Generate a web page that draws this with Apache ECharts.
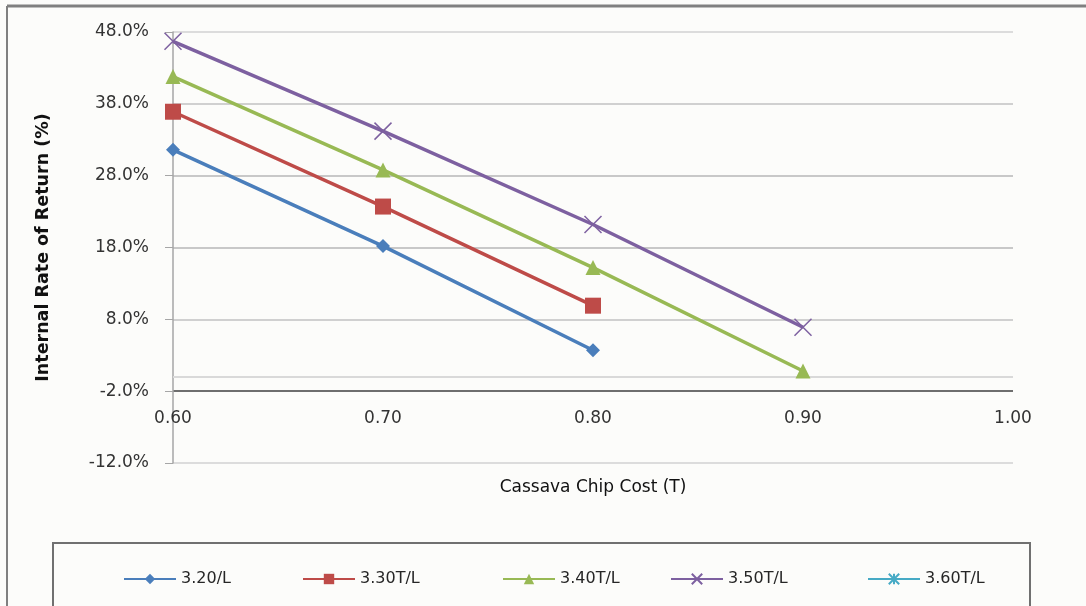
<!DOCTYPE html>
<html>
<head>
<meta charset="utf-8">
<script src="https://cdn.jsdelivr.net/npm/echarts@6/dist/echarts.min.js"></script>
<style>
html,body{margin:0;padding:0;background:#fcfcfa;}
#chart{width:1086px;height:606px;}
</style>
</head>
<body>
<div id="chart"></div>
<script>
// ---- data ----
var costs = [0.60, 0.70, 0.80, 0.90];
var seriesNames = ['3.20/L', '3.30T/L', '3.40T/L', '3.50T/L', '3.60T/L'];
var irr320 = [31.6, 18.2, 3.7];
var irr330 = [36.9, 23.7, 9.9];
var irr340 = [41.8, 28.8, 15.2, 0.8];
var irr350 = [46.7, 34.2, 21.2, 6.9];
var irr360 = [];
var xTicks = [0.60, 0.70, 0.80, 0.90, 1.00];
var yTicks = [-12, -2, 8, 18, 28, 38, 48];

var colors = ['#4a7ebb', '#be4b48', '#98b954', '#7d60a0', '#46aac5'];
var symbols = ['diamond', 'rect', 'triangle', 'path://M0,0L10,10M10,0L0,10', 'path://M0,0L10,10M10,0L0,10M5,0L5,10'];
var symbolSizes = [14, 16, 15, 17, 14];
var allData = [irr320, irr330, irr340, irr350, irr360];

function pairs(vals) {
  return vals.map(function (v, i) { return [costs[i], v]; });
}

var FONT = '"DejaVu Sans", "Liberation Sans", sans-serif';
var chart = echarts.init(document.getElementById('chart'), null, {renderer: 'canvas'});

var series = seriesNames.map(function (name, i) {
  var isLineSym = i >= 3;
  return {
    name: name,
    type: 'line',
    data: pairs(allData[i]),
    symbol: symbols[i],
    symbolSize: symbolSizes[i],
    showAllSymbol: true,
    lineStyle: {color: colors[i], width: 3.5},
    itemStyle: isLineSym ? {color: colors[i], borderColor: colors[i], borderWidth: 1.5} : {color: colors[i]},
    z: 3 + i
  };
});
// light gridline at 0%
series[0].markLine = {
  silent: true, symbol: 'none', label: {show: false},
  lineStyle: {color: '#d9d9d9', width: 2, type: 'solid'},
  data: [{yAxis: 0}]
};

var legendLefts = [118, 297, 497, 665, 862];
var legends = seriesNames.map(function (name, i) {
  return {
    data: [name], left: legendLefts[i], top: 566,
    itemWidth: 52, itemHeight: 13, itemGap: 5,
    textStyle: {fontFamily: FONT, fontSize: 16, color: '#262626'}
  };
});

chart.setOption({
  backgroundColor: '#fcfcfa',
  animation: false,
  color: colors,
  grid: {left: 173, right: 73, top: 32, bottom: 143, containLabel: false},
  xAxis: {
    type: 'value', min: 0.6, max: 1.0, interval: 0.1,
    offset: -72,
    axisLine: {show: false},
    axisTick: {show: false},
    splitLine: {show: false},
    axisLabel: {margin: 19, fontFamily: FONT, fontSize: 17, color: '#333',
      formatter: function (v) { return v.toFixed(2); }},
    name: 'Cassava Chip Cost (T)', nameLocation: 'middle', nameGap: 88,
    nameTextStyle: {fontFamily: FONT, fontSize: 17, color: '#111'}
  },
  yAxis: {
    type: 'value', min: -12, max: 48, interval: 10,
    axisLine: {show: true, lineStyle: {color: '#a6a6a6', width: 1.5}},
    axisTick: {show: true, length: 8, lineStyle: {color: '#a6a6a6'}},
    splitLine: {show: true, lineStyle: {color: ['#dcdcdc', '#6e6e6e', '#d0d0d0', '#c8c8c8', '#c8c8c8', '#d0d0d0', '#dcdcdc'], width: 2}},
    axisLabel: {margin: 24, fontFamily: FONT, fontSize: 17, color: '#333',
      formatter: function (v) { return v.toFixed(1) + '%'; }},
    name: 'Internal Rate of Return (%)', nameLocation: 'middle', nameGap: 121,
    nameTextStyle: {fontFamily: FONT, fontSize: 17.5, fontWeight: 'bold', color: '#111'}
  },
  legend: legends,
  graphic: [
    {type: 'line', shape: {x1: 7, y1: 6, x2: 1086, y2: 6}, style: {stroke: '#808080', lineWidth: 3}, silent: true},
    {type: 'line', shape: {x1: 7, y1: 6, x2: 7, y2: 606}, style: {stroke: '#808080', lineWidth: 2}, silent: true},
    {type: 'rect', shape: {x: 53, y: 543, width: 977, height: 80}, style: {fill: 'none', stroke: '#707070', lineWidth: 2}, silent: true}
  ],
  series: series
});
</script>
</body>
</html>
